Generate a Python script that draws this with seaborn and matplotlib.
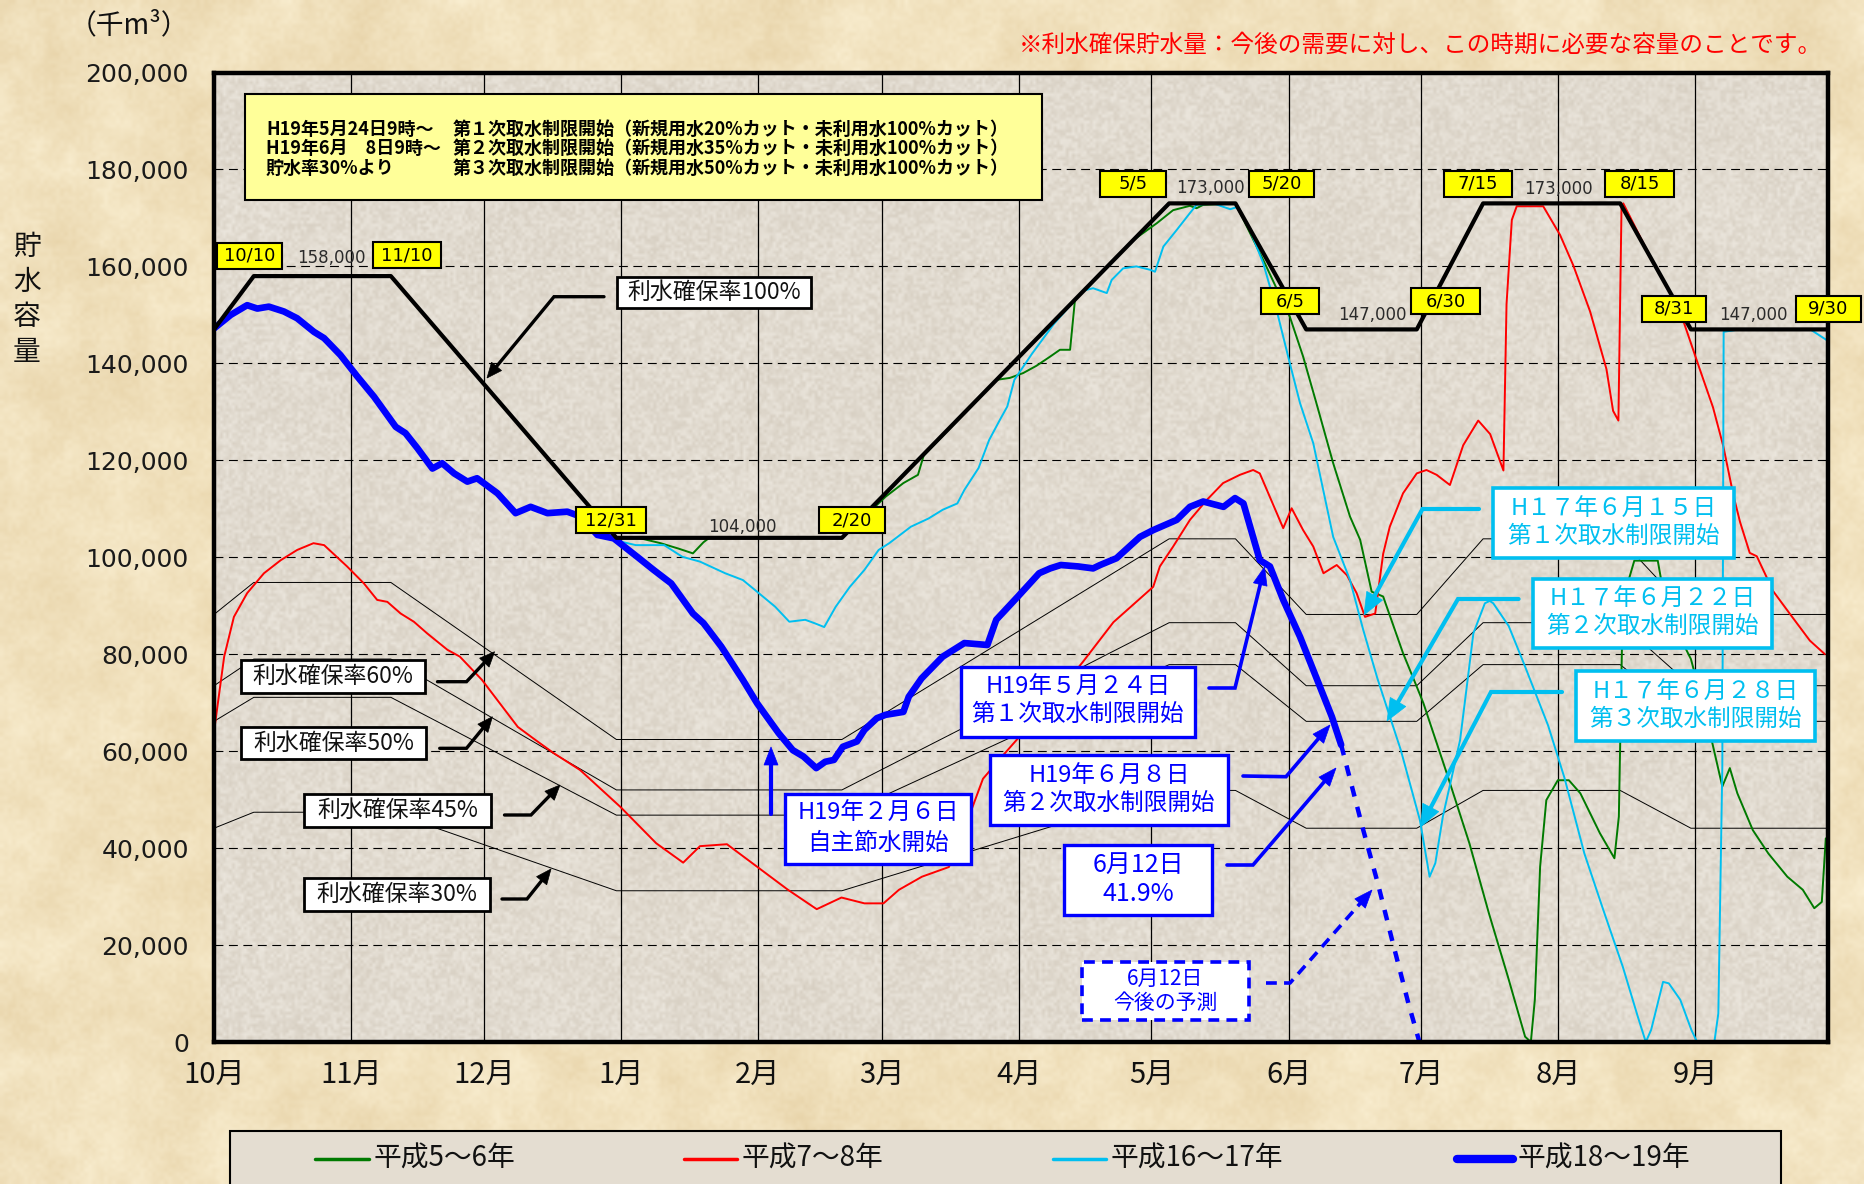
import numpy as np
import matplotlib
matplotlib.use("Agg")
import matplotlib.pyplot as plt
from matplotlib.patches import Rectangle, Polygon
from matplotlib.lines import Line2D
from matplotlib.ticker import FuncFormatter
import seaborn as sns

# ---------------- data (storage in 千m3, x = days counted from 1 October) ----------------
month_labels = ["10月", "11月", "12月", "1月", "2月", "3月", "4月", "5月", "6月", "7月", "8月", "9月"]
month_start = [0, 31, 61, 92, 123, 151, 182, 212, 243, 273, 304, 335]

# rule curve (利水確保率100%)
rule_days = [0, 9, 40, 91, 142, 216, 231, 247, 272, 287, 318, 334, 365]
rule_vals = [147000, 158000, 158000, 104000, 104000, 173000, 173000, 147000, 147000,
             173000, 173000, 147000, 147000]
rule_dates = ["", "10/10", "11/10", "12/31", "2/20", "5/5", "5/20", "6/5", "6/30",
              "7/15", "8/15", "8/31", "9/30"]
rate_levels = [60, 50, 45, 30]

# 平成18～19年
h18_days = [0, 3.8, 7.5, 9.8, 12.4, 15.8, 18.8, 22.6, 24.9, 28.6, 32.4, 36.2, 41.1, 43.3, 46,
            49.4, 51.6, 54.3, 57.3, 59.5, 64.1, 68.2, 71.6, 75.4, 79.9, 82.9, 86.7, 90.4, 95.7,
            99.4, 103.4, 108.3, 110.7, 114.7, 119.6, 122.8, 127.7, 130.9, 133.3, 136.2, 138.2,
            140.2, 142.2, 145.4, 147.1, 149.9, 151.9, 155.9, 157.1, 160, 164.8, 169.7, 174.9,
            176.9, 181.8, 186.6, 189.1, 191.5, 195.5, 198.8, 200.4, 204.1, 209.4, 212.4, 217.7,
            220.7, 223.7, 228.3, 230.9, 232.8, 236.5, 238.8, 241.8, 245.6, 250.1, 252.8, 254.9]
h18_vals = [147200, 150000, 152000, 151300, 151700, 150700, 149300, 146500, 145200, 141700,
            137300, 133100, 126900, 125600, 122500, 118300, 119400, 117300, 115600, 116300,
            113200, 109100, 110400, 109100, 109400, 108400, 104600, 103900, 100100, 97400,
            94600, 88400, 86400, 81600, 74700, 69900, 63700, 60200, 58900, 56500,
            57800, 58200, 60900, 62000, 64400, 66800, 67500, 68100, 71200, 75000,
            79500, 82300, 81900, 87100, 91900, 96700, 97700, 98400, 98100, 97700,
            98400, 99800, 104200, 105600, 107700, 110400, 111500, 110400, 112200, 111100,
            99400, 98100, 91200, 83600, 73300, 67100, 61300]
# 6月12日 forecast
fc_days = [254.9, 259.7, 263.2, 266.6, 270.1, 272.6]
fc_vals = [61300, 44400, 32700, 20400, 8000, 0]

# 平成7～8年
h7_days = [0, 2.3, 4.5, 7.5, 11.3, 15.1, 18.8, 22.5, 24.9, 30.1, 33.9, 36.9, 39.2, 42.2, 45.2,
           48.2, 52.8, 55.6, 60.6, 68.7, 72.7, 76.8, 82.8, 91.9, 100, 106.1, 109.9, 116, 122.9,
           129.8, 136.3, 141.9, 147.1, 151.4, 154.9, 160.1, 166.2, 171.3, 173.9, 178.3, 187,
           196.4, 203.4, 212.4, 213.9, 216.9, 220.7, 224.5, 228.2, 232, 235, 236.5, 241.8,
           243.7, 246.3, 248.6, 250.9, 253.9, 256.2, 258.4, 260.3, 262.6, 264.4, 265.9, 268.9,
           272, 274.2, 276.5, 279.5, 282.5, 285.9, 288.6, 291.6, 292.3, 293.5, 294.6, 300.6,
           304.4, 307.4, 311.2, 314.9, 316.4, 317.6, 318.3, 318.7, 325, 331, 332.3, 336, 339,
           341.3, 343.6, 345.1, 347.3, 348.9, 352.6, 356.4, 360.9, 364.3]
h7_vals = [64000, 79500, 87700, 92600, 96700, 99400, 101500, 102900, 102500, 98100,
           94600, 91200, 90800, 88400, 86700, 84300, 80900, 79500, 74700, 65000,
           62300, 59600, 56100, 48500, 41000, 37000, 40400, 40800, 36100, 31400,
           27400, 29800, 28600, 28600, 31400, 34100, 36100, 47900, 54300, 59000,
           68000, 78300, 86600, 93900, 98100, 102200, 107700, 111800, 115300, 117000,
           118000, 117300, 106000, 110100, 105600, 102200, 96700, 98400, 96300, 92600,
           87700, 88400, 100700, 106300, 113200, 117300, 118000, 117000, 114900, 123100,
           128200, 125400, 117900, 152200, 169600, 172400, 172400, 166500, 160200, 150700,
           138800, 130200, 128200, 172000, 173000, 161600, 151900, 148700, 138800, 130900,
           123000, 112800, 107300, 100900, 100200, 93000, 88300, 82800, 80000]

# 平成5～6年
h5_days = [0, 9, 40, 91, 96, 101, 105, 108.3, 110.7, 112, 142, 151.9, 155.9, 159.2, 160.5,
           177, 180, 183, 186, 189.1, 191.3, 193.6, 194.7, 208, 213.2, 216.9, 220.7, 222.2,
           223.7, 231, 237.3, 243.3, 246.3, 249.3, 253.1, 256.9, 259.2, 261.8, 264.4, 268.9,
           272, 273.5, 278.8, 283.9, 288.3, 292.6, 296.5, 297.8, 298.7, 299.9, 301.3, 303.9,
           306.4, 309, 313.4, 316.7, 317.7, 318.6, 321.2, 326.5, 328.5, 334, 337.5, 341.1,
           342.8, 344.5, 348, 351.5, 355.8, 359.3, 361.9, 363.6, 364.5]
h5_vals = [147000, 158000, 158000, 104000, 104000, 102900, 101800, 100800, 103100, 104000,
           104000, 112500, 115300, 117000, 121000, 136600, 137000, 138000, 139500, 141400,
           142800, 142800, 153100, 165500, 168900, 171600, 172500, 172000, 172700, 173000,
           161300, 149600, 141400, 131800, 119400, 108400, 103600, 92900, 91900, 80200,
           73300, 69900, 55400, 41000, 26600, 13500, 1100, 0, 8700, 36200,
           49900, 54000, 54000, 51300, 43100, 37900, 46500, 91200, 99300, 99300,
           89000, 79000, 67000, 52700, 56500, 51300, 43700, 38900, 34100, 31400,
           27600, 28900, 42000]

# 平成16～17年
h16_days = [0, 9, 40, 91, 92.1, 95.4, 101.8, 105.9, 109.9, 115.6, 119.6, 122.8, 126.9, 130.1,
            133.7, 135.8, 138, 140.6, 143.8, 147.1, 150.3, 152.7, 157.6, 161.6, 164.8, 168.1,
            169.7, 172.9, 175.3, 177.7, 179.4, 181, 185, 190, 196.6, 198.8, 201.9, 203, 205.6,
            208.6, 211.7, 212.8, 214.7, 217.7, 220.7, 222.2, 226, 229.8, 231.6, 234.3, 237.3,
            240.3, 243.3, 245.6, 248.6, 253.1, 256.9, 259.9, 263.1, 268.4, 272.7, 274.9, 276.2,
            277.9, 281.8, 283.5, 284.8, 287.4, 288.5, 289.3, 292.8, 296.3, 301.7, 305.4, 309.9,
            314.2, 318.6, 322, 323.8, 325, 327.7, 329, 331.6, 334.1, 335.4, 339.3, 340.2, 341.1,
            341.4, 345, 361, 364.7]
h16_vals = [147000, 158000, 158000, 104000, 103200, 102500, 102500, 100100, 99100, 96700,
            95300, 92900, 89800, 86700, 87100, 86400, 85600, 89800, 93900, 97400,
            101500, 102900, 106300, 108000, 109800, 111100, 113900, 118400, 124200, 128300,
            131100, 136600, 142000, 148200, 155000, 155500, 154500, 157200, 159600, 160000,
            159300, 158900, 164100, 167500, 171000, 172700, 173000, 171800, 172300, 167500,
            160600, 151000, 140000, 131800, 123500, 104200, 95300, 85000, 75000, 60200,
            45800, 34100, 36900, 46500, 62300, 74700, 84300, 90500, 91000, 90500,
            85800, 77900, 65300, 54500, 38900, 27200, 15500, 5200, 0, 2500,
            12400, 12100, 8700, 2500, 0, 0, 5900, 56800, 146500, 147000,
            147000, 144800]

series_names = ["平成5～6年", "平成7～8年", "平成16～17年", "平成18～19年"]

# ---------------- style ----------------
W, H = 1865, 1184
PAPER = "#F0DFB8"
PANEL = "#E4DDD1"
GREEN, RED, CYAN, BLUE = "#007A00", "#FF0000", "#00BFF0", "#0000FF"

sns.set_style("white")
plt.rcParams["font.family"] = ["Noto Sans CJK JP", "DejaVu Sans"]

fig = plt.figure(figsize=(W / 100, H / 100), dpi=100, facecolor=PAPER)


# ---------------- paper textures ----------------
tex_rng = np.random.default_rng(11)


def upsample(a, h, w):
    xs = np.linspace(0, a.shape[1] - 1, w)
    ys = np.linspace(0, a.shape[0] - 1, h)
    rows = np.array([np.interp(xs, np.arange(a.shape[1]), r) for r in a])
    return np.array([np.interp(ys, np.arange(a.shape[0]), c) for c in rows.T]).T


def mottled(h, w, light, dark, coarse, fine_amp):
    n = coarse * (0.55 * upsample(tex_rng.random((22, 34)), h, w)
                  + 0.45 * upsample(tex_rng.random((70, 110)), h, w))
    n = n + fine_amp * tex_rng.random((h, w))
    n = (n - n.min()) / (n.max() - n.min())
    n = n[..., None]
    light = np.array(light) / 255.0
    dark = np.array(dark) / 255.0
    return dark + (light - dark) * n


bg = fig.add_axes([0, 0, 1, 1], zorder=-10)
bg.imshow(mottled(296, 466, (250, 239, 210), (232, 212, 170), 1.0, 0.3), aspect="auto",
          extent=(0, 1, 0, 1), interpolation="bilinear")
bg.set_axis_off()

ax = fig.add_axes([214 / W, 1 - 1042 / H, (1828 - 214) / W, (1042 - 72.5) / H])
ax.set_facecolor(PANEL)
ax.imshow(mottled(320, 540, (236, 231, 222), (214, 206, 193), 0.35, 1.0), aspect="auto",
          extent=(0, 365, 0, 200000), interpolation="bilinear", zorder=0)

# thin lines for each 利水確保率
for lvl in rate_levels:
    sns.lineplot(x=rule_days, y=[v * lvl / 100 for v in rule_vals], ax=ax, color="black",
                 linewidth=0.7, estimator=None, sort=False, legend=False, zorder=2)

sns.lineplot(x=h5_days, y=h5_vals, ax=ax, color=GREEN, linewidth=1.4,
             estimator=None, sort=False, legend=False, zorder=3)
sns.lineplot(x=h7_days, y=h7_vals, ax=ax, color=RED, linewidth=1.4,
             estimator=None, sort=False, legend=False, zorder=3)
sns.lineplot(x=h16_days, y=h16_vals, ax=ax, color=CYAN, linewidth=1.4,
             estimator=None, sort=False, legend=False, zorder=3)
sns.lineplot(x=h18_days, y=h18_vals, ax=ax, color=BLUE, linewidth=4.8,
             estimator=None, sort=False, legend=False, zorder=4)
sns.lineplot(x=fc_days, y=fc_vals, ax=ax, color=BLUE, linewidth=3.2, linestyle=(0, (2.4, 2.4)),
             estimator=None, sort=False, legend=False, zorder=4)
sns.lineplot(x=rule_days, y=rule_vals, ax=ax, color="black", linewidth=3.0,
             estimator=None, sort=False, legend=False, zorder=5)

ax.set_xlim(0, 365)
ax.set_ylim(0, 200000)
ax.set_aspect("auto")
ax.set_xlabel("")
ax.set_ylabel("")
ax.set_xticks(month_start)
ax.set_xticklabels(month_labels)
ax.set_yticks(range(0, 200001, 20000))
ax.yaxis.set_major_formatter(FuncFormatter(lambda v, p: f"{int(v):,}"))
ax.set_axisbelow(True)
ax.xaxis.grid(True, color="black", linewidth=0.9, linestyle="-", zorder=1)
ax.yaxis.grid(True, color="black", linewidth=0.8, linestyle=(0, (8, 5)), zorder=1)
for gl in ax.get_xgridlines() + ax.get_ygridlines():
    gl.set_zorder(1)
ax.tick_params(axis="x", direction="in", length=6, width=2.5, color="black", pad=13,
               labelsize=21, labelcolor="#111111")
ax.tick_params(axis="y", length=0, pad=18, labelsize=18, labelcolor="#1a1a1a")
for lab in ax.get_yticklabels():
    lab.set_fontfamily("DejaVu Sans")
for s in ax.spines.values():
    s.set_linewidth(3.2)
    s.set_color("black")
    s.set_visible(True)
    s.set_zorder(6)


# ---------------- helpers in figure pixel coordinates (origin top-left) ----------------
def fx(x):
    return x / W


def fy(y):
    return 1 - y / H


def box(x0, y0, x1, y1, fc="white", ec="black", lw=1.5, ls="-", z=6):
    fig.add_artist(Rectangle((fx(x0), fy(y1)), fx(x1) - fx(x0), fy(y0) - fy(y1),
                             transform=fig.transFigure, facecolor=fc, edgecolor=ec,
                             linewidth=lw, linestyle=ls, zorder=z))


def text(x, y, s, size, color="black", ha="center", z=10, **kw):
    fig.text(fx(x), fy(y), s, fontsize=size, color=color, ha=ha, va="center",
             zorder=z, **kw)


def leader(pts, color, lw=2.2, ls="-", head=16, hw=13, z=7):
    (x1, y1), (x2, y2) = pts[-2], pts[-1]
    d = np.hypot(x2 - x1, y2 - y1)
    ux, uy = (x2 - x1) / d, (y2 - y1) / d
    bx, by = x2 - ux * head, y2 - uy * head
    line_pts = list(pts[:-1]) + [(bx + ux * 2, by + uy * 2)]
    fig.add_artist(Line2D([fx(p[0]) for p in line_pts], [fy(p[1]) for p in line_pts],
                          transform=fig.transFigure, color=color, linewidth=lw,
                          linestyle=ls, zorder=z, solid_joinstyle="miter"))
    nx, ny = -uy, ux
    tri = [(x2, y2), (bx + nx * hw / 2, by + ny * hw / 2), (bx - nx * hw / 2, by - ny * hw / 2)]
    fig.add_artist(Polygon([(fx(a), fy(b)) for a, b in tri], closed=True,
                           transform=fig.transFigure, facecolor=color, edgecolor=color,
                           linewidth=0.5, zorder=z))


# ---------------- titles and axis captions ----------------
text(129, 25, "（千m³）", 20, color="#111111")
for ch, yy in zip("貯水容量", [247, 282, 317, 352]):
    text(27, yy, ch, 20, color="#111111")
text(1822, 45, "※利水確保貯水量：今後の需要に対し、この時期に必要な容量のことです。", 17,
     color=RED, ha="right")

# ---------------- restriction note ----------------
box(245, 94, 1042, 200, fc="#FFFF99", ec="black", lw=1.5)
note_lines = [("H19年5月24日9時～", "第１次取水制限開始（新規用水20%カット・未利用水100%カット）"),
              ("H19年6月　8日9時～", "第２次取水制限開始（新規用水35%カット・未利用水100%カット）"),
              ("貯水率30%より", "第３次取水制限開始（新規用水50%カット・未利用水100%カット）")]
for (c1, c2), yy in zip(note_lines, [129, 148.5, 168]):
    text(266, yy, c1, 13, ha="left", fontweight="bold")
    text(453, yy, c2, 13, ha="left", fontweight="bold")

# ---------------- rule curve date tags and plateau values ----------------
tag_pos = {"10/10": (249.5, 255.5, 65), "11/10": (407, 255, 68), "12/31": (611, 520, 70),
           "2/20": (851.6, 520, 66), "5/5": (1133, 184, 66), "5/20": (1281.7, 184, 65),
           "6/5": (1290, 301.3, 59), "6/30": (1445.5, 301.3, 68), "7/15": (1477.8, 183.8, 68),
           "8/15": (1639.5, 183.8, 68), "8/31": (1673.7, 308.7, 64), "9/30": (1828.5, 308.7, 65)}
for tag in rule_dates[1:]:
    cx, cy, w = tag_pos[tag]
    box(cx - w / 2, cy - 13, cx + w / 2, cy + 13, fc="#FFFF00", ec="black", lw=1.5, z=8)
    text(cx, cy, tag, 13, color="black", z=11, fontfamily="DejaVu Sans")

plateau_pos = {1: (331, 258), 3: (742, 527), 5: (1210, 188), 7: (1372, 315), 9: (1558, 189),
               11: (1753.5, 315)}
for idx, (cx, cy) in plateau_pos.items():
    text(cx, cy, f"{rule_vals[idx]:,}", 12, color="#2a2a2a", fontfamily="DejaVu Sans")

# ---------------- 利水確保率 labels ----------------
rate_boxes = [("利水確保率100%", (617, 277, 811, 308), [(604, 296.7), (554, 296.7), (487, 378)]),
              ("利水確保率60%", (241, 660, 425, 693), [(437.5, 681.7), (466.5, 681.7), (494.6, 651.7)]),
              ("利水確保率50%", (241, 727, 426, 759), [(439.7, 748.3), (466.5, 748.3), (492.4, 716.7)]),
              ("利水確保率45%", (304, 794, 491, 827), [(504.5, 815), (531, 815), (560, 785)]),
              ("利水確保率30%", (304, 878, 490, 911), [(502, 899), (527, 899), (551, 869)])]
for s, (x0, y0, x1, y1), pts in rate_boxes:
    box(x0, y0, x1, y1, fc="white", ec="black", lw=2.0)
    text((x0 + x1) / 2, (y0 + y1) / 2, s, 16.5, color="#111111")
    leader(pts, "black", lw=2.4, head=15, hw=13)

# ---------------- H19 annotations (blue) ----------------
blue_boxes = [(("H19年２月６日", "自主節水開始"), (785, 794, 971, 864), (813, 843), 17),
              (("H19年５月２４日", "第１次取水制限開始"), (961, 667, 1195, 737), (687, 714), 17),
              (("H19年６月８日", "第２次取水制限開始"), (990, 755, 1228, 825), (776, 803), 17),
              (("6月12日", "41.9%"), (1064, 845, 1212, 915), (865, 894), 18)]
for lines, (x0, y0, x1, y1), ys, size in blue_boxes:
    box(x0, y0, x1, y1, fc="white", ec=BLUE, lw=2.4)
    for s, yy in zip(lines, ys):
        text((x0 + x1) / 2, yy, s, size, color=BLUE)
leader([(771, 814), (771, 747)], BLUE, lw=3, head=18, hw=14)
leader([(1209, 688), (1235, 688), (1264.5, 567)], BLUE, lw=2.6, head=18, hw=14)
leader([(1243, 776), (1286, 776.7), (1330, 725)], BLUE, lw=2.6, head=18, hw=14)
leader([(1227, 865), (1253, 865), (1336, 768)], BLUE, lw=2.6, head=18, hw=14)

box(1082, 962, 1249, 1020, fc="white", ec=BLUE, lw=2.6, ls=(0, (3, 2)))
text(1165.5, 979, "6月12日", 15, color=BLUE)
text(1165.5, 1003, "今後の予測", 15, color=BLUE)
leader([(1266, 983), (1290, 983), (1372, 890)], BLUE, lw=2.6, ls=(0, (3, 2)), head=18, hw=14)

# ---------------- H17 annotations (cyan) ----------------
cyan_boxes = [(("H１７年６月１５日", "第１次取水制限開始"), (1493, 488, 1734, 558), (509, 536),
               [(1479, 509), (1422.5, 509), (1364, 615)]),
              (("H１７年６月２２日", "第２次取水制限開始"), (1533, 579, 1772, 648), (599, 626),
               [(1518.6, 599), (1458, 599), (1387, 721)]),
              (("H１７年６月２８日", "第３次取水制限開始"), (1576, 671, 1815, 741), (692, 719),
               [(1562, 692), (1491, 692), (1420.6, 827)])]
for lines, (x0, y0, x1, y1), ys, pts in cyan_boxes:
    box(x0, y0, x1, y1, fc="white", ec=CYAN, lw=2.6)
    for s, yy in zip(lines, ys):
        text((x0 + x1) / 2, yy, s, 17, color=CYAN)
    leader(pts, CYAN, lw=3.0, head=22, hw=18)

# ---------------- legend ----------------
box(230, 1131, 1781, 1215, fc=PANEL, ec="black", lw=1.5, z=6)
legend_items = [(series_names[0], GREEN, 2.5, 315, 369),
                (series_names[1], RED, 2.5, 684, 737),
                (series_names[2], CYAN, 2.5, 1053, 1106),
                (series_names[3], BLUE, 6.0, 1457, 1513)]
for name, col, lw, xa, xb in legend_items:
    fig.add_artist(Line2D([fx(xa), fx(xb)], [fy(1159), fy(1159)], transform=fig.transFigure,
                          color=col, linewidth=lw, zorder=8, solid_capstyle="round"))
    text(xb + 5, 1159, name, 20, color="#111111", ha="left")

fig.savefig("out.png", dpi=100, facecolor=PAPER)
